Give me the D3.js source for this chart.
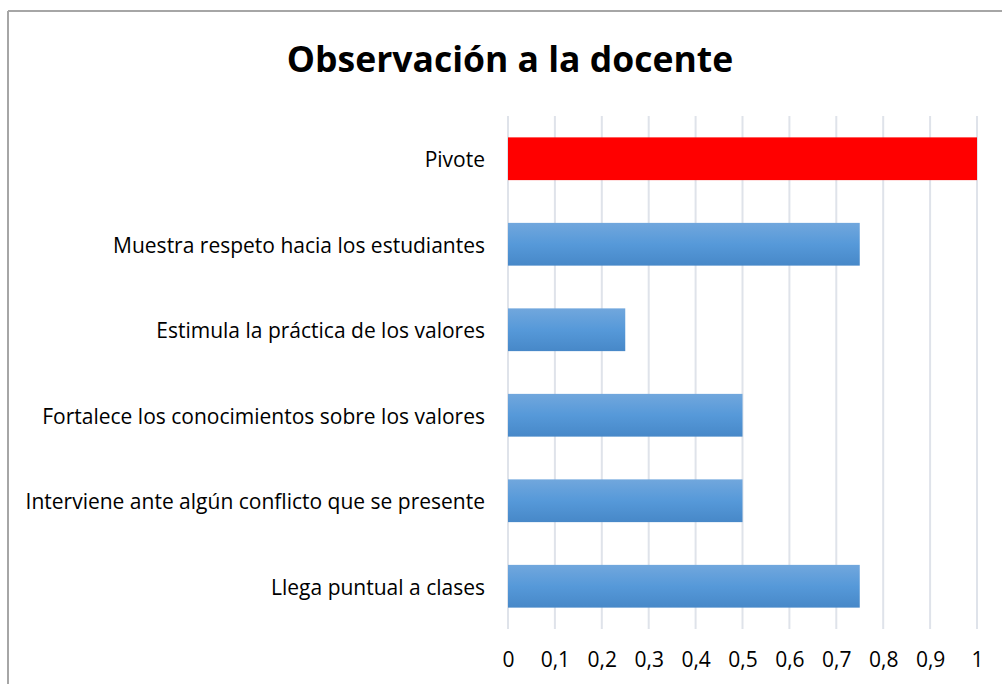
<!DOCTYPE html>
<html>
<head>
<meta charset="utf-8">
<script src="https://cdn.jsdelivr.net/npm/d3@7"></script>
<style>
  body { margin: 0; background: #fff; }
  svg { display: block; }
</style>
</head>
<body>
<svg id="chart" width="1002" height="684"></svg>
<script>
// data
var categories = [
  "Pivote",
  "Muestra respeto hacia los estudiantes",
  "Estimula la práctica de los valores",
  "Fortalece los conocimientos sobre los valores",
  "Interviene ante algún conflicto que se presente",
  "Llega puntual a clases"
];
var values = [1, 0.75, 0.25, 0.5, 0.5, 0.75];
var tickValues = [0, 0.1, 0.2, 0.3, 0.4, 0.5, 0.6, 0.7, 0.8, 0.9, 1];
var tickLabels = ["0", "0,1", "0,2", "0,3", "0,4", "0,5", "0,6", "0,7", "0,8", "0,9", "1"];

var svg = d3.select("#chart");
var fontFam = "'Open Sans', Lato, sans-serif";

// outer frame (only top and left visible)
svg.append("line").attr("x1", 8).attr("y1", 11).attr("x2", 1002).attr("y2", 11)
  .attr("stroke", "#a6a6a6").attr("stroke-width", 2);
svg.append("line").attr("x1", 8).attr("y1", 11).attr("x2", 8).attr("y2", 684)
  .attr("stroke", "#a6a6a6").attr("stroke-width", 2);

// gradient for blue bars
var defs = svg.append("defs");
var grad = defs.append("linearGradient").attr("id", "blueGrad")
  .attr("x1", 0).attr("y1", 0).attr("x2", 0).attr("y2", 1);
grad.append("stop").attr("offset", "0%").attr("stop-color", "#71a7dd");
grad.append("stop").attr("offset", "50%").attr("stop-color", "#5699d9");
grad.append("stop").attr("offset", "100%").attr("stop-color", "#4788c8");

var margin = {left: 508, right: 25, top: 116, bottom: 55};
var x = d3.scaleLinear().domain([0, 1]).range([margin.left, 1002 - margin.right]);
var y = d3.scaleBand().domain(categories).range([margin.top, 684 - margin.bottom]).padding(0.5).paddingOuter(0.25);

// gridlines
svg.append("g").selectAll("line")
  .data(tickValues)
  .enter().append("line")
  .attr("x1", function(d) { return x(d); })
  .attr("x2", function(d) { return x(d); })
  .attr("y1", margin.top)
  .attr("y2", 684 - margin.bottom)
  .attr("stroke", "#dfe3ea")
  .attr("stroke-width", 2);

// bars
svg.append("g").selectAll("rect")
  .data(categories)
  .enter().append("rect")
  .attr("x", x(0))
  .attr("y", function(d) { return y(d); })
  .attr("width", function(d, i) { return x(values[i]) - x(0); })
  .attr("height", y.bandwidth())
  .attr("fill", function(d, i) { return i == 0 ? "#ff0000" : "url(#blueGrad)"; });

// category labels
svg.append("g").selectAll("text")
  .data(categories)
  .enter().append("text")
  .attr("x", x(0) - 23)
  .attr("y", function(d) { return y(d) + y.bandwidth() / 2 + 1; })
  .attr("dy", "0.35em")
  .attr("text-anchor", "end")
  .attr("font-family", fontFam)
  .attr("font-size", 21)
  .attr("fill", "#000")
  .text(function(d) { return d; });

// x axis tick labels
var xAxis = d3.axisBottom(x)
  .tickValues(tickValues)
  .tickFormat(function(d, i) { return tickLabels[i]; })
  .tickSize(0)
  .tickPadding(0);
var gx = svg.append("g")
  .attr("transform", "translate(0," + (684 - margin.bottom + 23) + ")")
  .call(xAxis);
gx.select(".domain").remove();
gx.selectAll("text")
  .attr("font-family", fontFam)
  .attr("font-size", 21)
  .attr("fill", "#000");

// title
svg.append("text")
  .attr("x", 510)
  .attr("y", 60)
  .attr("dy", "0.35em")
  .attr("text-anchor", "middle")
  .attr("font-family", fontFam)
  .attr("font-weight", "bold")
  .attr("font-size", 35.5)
  .attr("fill", "#000")
  .text("Observación a la docente");
</script>
</body>
</html>
